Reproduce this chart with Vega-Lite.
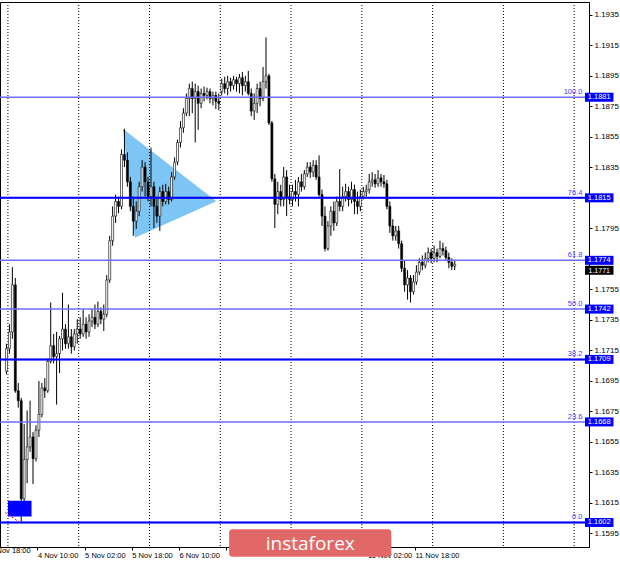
{
"$schema":"https://vega.github.io/schema/vega-lite/v6.json",
"width":589,"height":545,
"autosize":{"type":"none"},
"padding":{"left":0,"top":2,"right":31,"bottom":16},
"background":"#ffffff",
"config":{"view":{"stroke":"#000","strokeWidth":1},"axis":{"labelFont":"Liberation Sans","labelFontSize":8,"labelColor":"#000","domainColor":"#000","tickColor":"#000","grid":false},"axisX":{"labelFontSize":7.5},"text":{"font":"Liberation Sans"}},
"datasets":{
"tri":[{"x":39,"y":1.18603,"y2":1.18603},{"x":43,"y":1.18543,"y2":1.17888},{"x":70.67,"y":1.18127,"y2":1.18127}],
"grid":[{"x":0},{"x":24},{"x":48},{"x":72},{"x":96},{"x":120},{"x":144},{"x":168},{"x":192}],
"fib":[{"p":1.1881,"lab":"100.0"},{"p":1.1815,"lab":"76.4"},{"p":1.1774,"lab":"61.8"},{"p":1.1742,"lab":"50.0"},{"p":1.1709,"lab":"38.2"},{"p":1.1668,"lab":"23.6"},{"p":1.1602,"lab":"0.0"}],
"hl":[{"p":1.1815},{"p":1.1709},{"p":1.1602}],
"xl":[{"t":-6,"lab":"3 Nov 18:00"}],
"logo":[{"name":"instaforex"}],
"k":[
{"t":-0.5,"o":1.17012,"hi":1.17193,"lo":1.16993,"c":1.17160},
{"t":0.5,"o":1.17160,"hi":1.17321,"lo":1.17128,"c":1.17270},
{"t":1.5,"o":1.17270,"hi":1.17695,"lo":1.17225,"c":1.17579},
{"t":2.5,"o":1.17579,"hi":1.17624,"lo":1.16871,"c":1.16884},
{"t":3.5,"o":1.16884,"hi":1.16935,"lo":1.16774,"c":1.16819},
{"t":4.5,"o":1.16819,"hi":1.16838,"lo":1.16021,"c":1.16175},
{"t":5.5,"o":1.16175,"hi":1.16665,"lo":1.16130,"c":1.16433},
{"t":6.5,"o":1.16433,"hi":1.16755,"lo":1.16278,"c":1.16516},
{"t":7.5,"o":1.16516,"hi":1.16819,"lo":1.16484,"c":1.16581},
{"t":8.5,"o":1.16581,"hi":1.16613,"lo":1.16272,"c":1.16439},
{"t":9.5,"o":1.16439,"hi":1.16658,"lo":1.16420,"c":1.16626},
{"t":10.5,"o":1.16626,"hi":1.16948,"lo":1.16581,"c":1.16729},
{"t":11.5,"o":1.16729,"hi":1.16935,"lo":1.16710,"c":1.16903},
{"t":12.5,"o":1.16903,"hi":1.16967,"lo":1.16838,"c":1.16884},
{"t":13.5,"o":1.16884,"hi":1.17096,"lo":1.16871,"c":1.17077},
{"t":14.5,"o":1.17077,"hi":1.17463,"lo":1.17064,"c":1.17180},
{"t":15.5,"o":1.17180,"hi":1.17257,"lo":1.17064,"c":1.17109},
{"t":16.5,"o":1.17109,"hi":1.17270,"lo":1.16793,"c":1.17128},
{"t":17.5,"o":1.17128,"hi":1.17244,"lo":1.17000,"c":1.17225},
{"t":18.5,"o":1.17225,"hi":1.17527,"lo":1.17148,"c":1.17289},
{"t":19.5,"o":1.17289,"hi":1.17321,"lo":1.17160,"c":1.17193},
{"t":20.5,"o":1.17193,"hi":1.17450,"lo":1.17160,"c":1.17238},
{"t":21.5,"o":1.17238,"hi":1.17289,"lo":1.17128,"c":1.17173},
{"t":22.5,"o":1.17173,"hi":1.17289,"lo":1.17148,"c":1.17257},
{"t":23.5,"o":1.17257,"hi":1.17354,"lo":1.17193,"c":1.17289},
{"t":24.5,"o":1.17289,"hi":1.17366,"lo":1.17225,"c":1.17257},
{"t":25.5,"o":1.17257,"hi":1.17418,"lo":1.17238,"c":1.17321},
{"t":26.5,"o":1.17321,"hi":1.17366,"lo":1.17225,"c":1.17270},
{"t":27.5,"o":1.17270,"hi":1.17386,"lo":1.17238,"c":1.17341},
{"t":28.5,"o":1.17341,"hi":1.17418,"lo":1.17302,"c":1.17366},
{"t":29.5,"o":1.17366,"hi":1.17450,"lo":1.17289,"c":1.17321},
{"t":30.5,"o":1.17321,"hi":1.17469,"lo":1.17302,"c":1.17405},
{"t":31.5,"o":1.17405,"hi":1.17431,"lo":1.17321,"c":1.17354},
{"t":32.5,"o":1.17354,"hi":1.17450,"lo":1.17276,"c":1.17386},
{"t":33.5,"o":1.17386,"hi":1.17643,"lo":1.17366,"c":1.17611},
{"t":34.5,"o":1.17611,"hi":1.17901,"lo":1.17592,"c":1.17869},
{"t":35.5,"o":1.17869,"hi":1.18094,"lo":1.17836,"c":1.18030},
{"t":36.5,"o":1.18030,"hi":1.18171,"lo":1.17985,"c":1.18126},
{"t":37.5,"o":1.18126,"hi":1.18158,"lo":1.18049,"c":1.18094},
{"t":38.5,"o":1.18094,"hi":1.18467,"lo":1.18075,"c":1.18435},
{"t":39.5,"o":1.18435,"hi":1.18603,"lo":1.18352,"c":1.18397},
{"t":40.5,"o":1.18397,"hi":1.18448,"lo":1.18223,"c":1.18255},
{"t":41.5,"o":1.18255,"hi":1.18287,"lo":1.18062,"c":1.18094},
{"t":42.5,"o":1.18094,"hi":1.18158,"lo":1.17901,"c":1.17997},
{"t":43.5,"o":1.17997,"hi":1.18126,"lo":1.17946,"c":1.18062},
{"t":44.5,"o":1.18062,"hi":1.18255,"lo":1.18030,"c":1.18223},
{"t":45.5,"o":1.18223,"hi":1.18397,"lo":1.18191,"c":1.18352},
{"t":46.5,"o":1.18352,"hi":1.18384,"lo":1.18158,"c":1.18255},
{"t":47.5,"o":1.18255,"hi":1.18287,"lo":1.18126,"c":1.18158},
{"t":48.5,"o":1.18158,"hi":1.18480,"lo":1.18094,"c":1.18223},
{"t":49.5,"o":1.18223,"hi":1.18255,"lo":1.17952,"c":1.18094},
{"t":50.5,"o":1.18094,"hi":1.18158,"lo":1.17985,"c":1.18030},
{"t":51.5,"o":1.18030,"hi":1.18223,"lo":1.17933,"c":1.18191},
{"t":52.5,"o":1.18191,"hi":1.18236,"lo":1.18094,"c":1.18126},
{"t":53.5,"o":1.18126,"hi":1.18242,"lo":1.18107,"c":1.18191},
{"t":54.5,"o":1.18191,"hi":1.18223,"lo":1.18107,"c":1.18139},
{"t":55.5,"o":1.18139,"hi":1.18319,"lo":1.18126,"c":1.18287},
{"t":56.5,"o":1.18287,"hi":1.18416,"lo":1.18268,"c":1.18384},
{"t":57.5,"o":1.18384,"hi":1.18532,"lo":1.18364,"c":1.18513},
{"t":58.5,"o":1.18513,"hi":1.18654,"lo":1.18480,"c":1.18609},
{"t":59.5,"o":1.18609,"hi":1.18738,"lo":1.18577,"c":1.18706},
{"t":60.5,"o":1.18706,"hi":1.18835,"lo":1.18686,"c":1.18802},
{"t":61.5,"o":1.18802,"hi":1.18899,"lo":1.18686,"c":1.18867},
{"t":62.5,"o":1.18867,"hi":1.18912,"lo":1.18706,"c":1.18802},
{"t":63.5,"o":1.18802,"hi":1.18899,"lo":1.18513,"c":1.18847},
{"t":64.5,"o":1.18847,"hi":1.18886,"lo":1.18596,"c":1.18770},
{"t":65.5,"o":1.18770,"hi":1.18867,"lo":1.18738,"c":1.18835},
{"t":66.5,"o":1.18835,"hi":1.18880,"lo":1.18783,"c":1.18822},
{"t":67.5,"o":1.18822,"hi":1.18873,"lo":1.18796,"c":1.18847},
{"t":68.5,"o":1.18847,"hi":1.18867,"lo":1.18770,"c":1.18802},
{"t":69.5,"o":1.18802,"hi":1.18847,"lo":1.18757,"c":1.18822},
{"t":70.5,"o":1.18822,"hi":1.18847,"lo":1.18732,"c":1.18783},
{"t":71.5,"o":1.18783,"hi":1.18835,"lo":1.18725,"c":1.18770},
{"t":72.5,"o":1.18847,"hi":1.18931,"lo":1.18822,"c":1.18899},
{"t":73.5,"o":1.18899,"hi":1.18944,"lo":1.18835,"c":1.18867},
{"t":74.5,"o":1.18867,"hi":1.18950,"lo":1.18822,"c":1.18912},
{"t":75.5,"o":1.18912,"hi":1.18938,"lo":1.18847,"c":1.18886},
{"t":76.5,"o":1.18886,"hi":1.18950,"lo":1.18860,"c":1.18925},
{"t":77.5,"o":1.18925,"hi":1.18944,"lo":1.18847,"c":1.18899},
{"t":78.5,"o":1.18899,"hi":1.18963,"lo":1.18835,"c":1.18938},
{"t":79.5,"o":1.18938,"hi":1.18976,"lo":1.18822,"c":1.18886},
{"t":80.5,"o":1.18886,"hi":1.18950,"lo":1.18847,"c":1.18912},
{"t":81.5,"o":1.18912,"hi":1.18983,"lo":1.18822,"c":1.18835},
{"t":82.5,"o":1.18835,"hi":1.18867,"lo":1.18686,"c":1.18719},
{"t":83.5,"o":1.18719,"hi":1.18835,"lo":1.18661,"c":1.18770},
{"t":84.5,"o":1.18770,"hi":1.18899,"lo":1.18706,"c":1.18867},
{"t":85.5,"o":1.18867,"hi":1.18912,"lo":1.18751,"c":1.18802},
{"t":86.5,"o":1.18802,"hi":1.19008,"lo":1.18783,"c":1.18912},
{"t":87.5,"o":1.18912,"hi":1.19202,"lo":1.18867,"c":1.18950},
{"t":88.5,"o":1.18950,"hi":1.18963,"lo":1.18628,"c":1.18641},
{"t":89.5,"o":1.18641,"hi":1.18654,"lo":1.18255,"c":1.18274},
{"t":90.5,"o":1.18274,"hi":1.18307,"lo":1.17952,"c":1.18107},
{"t":91.5,"o":1.18107,"hi":1.18255,"lo":1.18043,"c":1.18191},
{"t":92.5,"o":1.18191,"hi":1.18236,"lo":1.18094,"c":1.18139},
{"t":93.5,"o":1.18139,"hi":1.18352,"lo":1.18094,"c":1.18287},
{"t":94.5,"o":1.18287,"hi":1.18332,"lo":1.18030,"c":1.18158},
{"t":95.5,"o":1.18158,"hi":1.18236,"lo":1.18107,"c":1.18139},
{"t":96.5,"o":1.18139,"hi":1.18236,"lo":1.18094,"c":1.18191},
{"t":97.5,"o":1.18191,"hi":1.18268,"lo":1.18126,"c":1.18171},
{"t":98.5,"o":1.18171,"hi":1.18287,"lo":1.18094,"c":1.18255},
{"t":99.5,"o":1.18255,"hi":1.18307,"lo":1.18191,"c":1.18223},
{"t":100.5,"o":1.18223,"hi":1.18332,"lo":1.18204,"c":1.18307},
{"t":101.5,"o":1.18307,"hi":1.18384,"lo":1.18287,"c":1.18352},
{"t":102.5,"o":1.18352,"hi":1.18384,"lo":1.18281,"c":1.18319},
{"t":103.5,"o":1.18319,"hi":1.18397,"lo":1.18287,"c":1.18364},
{"t":104.5,"o":1.18364,"hi":1.18397,"lo":1.18268,"c":1.18287},
{"t":105.5,"o":1.18287,"hi":1.18429,"lo":1.18158,"c":1.18171},
{"t":106.5,"o":1.18171,"hi":1.18204,"lo":1.17965,"c":1.18030},
{"t":107.5,"o":1.18030,"hi":1.18094,"lo":1.17798,"c":1.17817},
{"t":108.5,"o":1.17817,"hi":1.17997,"lo":1.17804,"c":1.17965},
{"t":109.5,"o":1.17965,"hi":1.18094,"lo":1.17901,"c":1.18062},
{"t":110.5,"o":1.18062,"hi":1.18126,"lo":1.17933,"c":1.17985},
{"t":111.5,"o":1.17985,"hi":1.18158,"lo":1.17965,"c":1.18126},
{"t":112.5,"o":1.18126,"hi":1.18339,"lo":1.18062,"c":1.18094},
{"t":113.5,"o":1.18094,"hi":1.18223,"lo":1.18062,"c":1.18158},
{"t":114.5,"o":1.18158,"hi":1.18242,"lo":1.18126,"c":1.18191},
{"t":115.5,"o":1.18191,"hi":1.18223,"lo":1.18094,"c":1.18139},
{"t":116.5,"o":1.18139,"hi":1.18255,"lo":1.18113,"c":1.18204},
{"t":117.5,"o":1.18204,"hi":1.18236,"lo":1.18043,"c":1.18126},
{"t":118.5,"o":1.18126,"hi":1.18191,"lo":1.18043,"c":1.18094},
{"t":119.5,"o":1.18094,"hi":1.18204,"lo":1.18062,"c":1.18158},
{"t":120.5,"o":1.18158,"hi":1.18223,"lo":1.18139,"c":1.18191},
{"t":121.5,"o":1.18191,"hi":1.18236,"lo":1.18158,"c":1.18204},
{"t":122.5,"o":1.18204,"hi":1.18307,"lo":1.18178,"c":1.18255},
{"t":123.5,"o":1.18255,"hi":1.18319,"lo":1.18223,"c":1.18268},
{"t":124.5,"o":1.18268,"hi":1.18307,"lo":1.18216,"c":1.18242},
{"t":125.5,"o":1.18242,"hi":1.18332,"lo":1.18223,"c":1.18281},
{"t":126.5,"o":1.18281,"hi":1.18307,"lo":1.18223,"c":1.18255},
{"t":127.5,"o":1.18255,"hi":1.18300,"lo":1.18216,"c":1.18242},
{"t":128.5,"o":1.18242,"hi":1.18268,"lo":1.18075,"c":1.18094},
{"t":129.5,"o":1.18094,"hi":1.18126,"lo":1.17920,"c":1.17965},
{"t":130.5,"o":1.17965,"hi":1.18010,"lo":1.17869,"c":1.17901},
{"t":131.5,"o":1.17901,"hi":1.17965,"lo":1.17869,"c":1.17933},
{"t":132.5,"o":1.17933,"hi":1.17965,"lo":1.17817,"c":1.17849},
{"t":133.5,"o":1.17849,"hi":1.17869,"lo":1.17663,"c":1.17688},
{"t":134.5,"o":1.17688,"hi":1.17740,"lo":1.17534,"c":1.17579},
{"t":135.5,"o":1.17579,"hi":1.17676,"lo":1.17482,"c":1.17624},
{"t":136.5,"o":1.17624,"hi":1.17643,"lo":1.17463,"c":1.17534},
{"t":137.5,"o":1.17534,"hi":1.17643,"lo":1.17515,"c":1.17598},
{"t":138.5,"o":1.17598,"hi":1.17708,"lo":1.17579,"c":1.17663},
{"t":139.5,"o":1.17663,"hi":1.17753,"lo":1.17643,"c":1.17727},
{"t":140.5,"o":1.17727,"hi":1.17772,"lo":1.17676,"c":1.17708},
{"t":141.5,"o":1.17708,"hi":1.17791,"lo":1.17688,"c":1.17753},
{"t":142.5,"o":1.17753,"hi":1.17824,"lo":1.17727,"c":1.17791},
{"t":143.5,"o":1.17791,"hi":1.17817,"lo":1.17721,"c":1.17753},
{"t":144.5,"o":1.17753,"hi":1.17836,"lo":1.17727,"c":1.17791},
{"t":145.5,"o":1.17791,"hi":1.17817,"lo":1.17727,"c":1.17766},
{"t":146.5,"o":1.17766,"hi":1.17869,"lo":1.17753,"c":1.17817},
{"t":147.5,"o":1.17817,"hi":1.17856,"lo":1.17772,"c":1.17804},
{"t":148.5,"o":1.17804,"hi":1.17830,"lo":1.17740,"c":1.17759},
{"t":149.5,"o":1.17759,"hi":1.17791,"lo":1.17688,"c":1.17727},
{"t":150.5,"o":1.17727,"hi":1.17753,"lo":1.17676,"c":1.17701},
{"t":151.5,"o":1.17701,"hi":1.17740,"lo":1.17676,"c":1.17714}
]},
"layer":[
{"data":{"name":"tri"},"mark":{"type":"area","color":"#7cc5f5","opacity":1},
 "encoding":{"x":{"field":"x","type":"quantitative","scale":{"domain":[-1,195.333],"nice":false,"zero":false},"axis":{"orient":"bottom","values":[10,26,42,58,74,90,106,122,138],"labelExpr":"['4 Nov 10:00','5 Nov 02:00','5 Nov 18:00','6 Nov 10:00','','','','11 Nov 02:00','11 Nov 18:00'][indexof([10,26,42,58,74,90,106,122,138], datum.value)]","labelAlign":"left","labelBaseline":"top","labelPadding":1,"tickSize":3,"labelOverlap":false,"labelBound":false,"labelFlush":false,"title":null}},
 "y":{"field":"y","type":"quantitative","scale":{"domain":[1.15892,1.19402],"nice":false,"zero":false},"axis":{"orient":"right","values":[1.1595,1.1615,1.1635,1.1655,1.1675,1.1695,1.1715,1.1735,1.1755,1.1795,1.1835,1.1855,1.1875,1.1895,1.1915,1.1935],"format":".4f","tickSize":3,"labelPadding":2,"labelBaseline":"middle","labelOverlap":false,"labelBound":false,"labelFlush":false,"title":null}},"y2":{"field":"y2"}}},
{"data":{"name":"grid"},"mark":{"type":"rule","color":"#000","strokeDash":[1,2],"strokeWidth":1},
 "encoding":{"x":{"field":"x","type":"quantitative","scale":{"domain":[-1,195.333],"nice":false,"zero":false},"axis":{"orient":"bottom","values":[10,26,42,58,74,90,106,122,138],"labelExpr":"['4 Nov 10:00','5 Nov 02:00','5 Nov 18:00','6 Nov 10:00','','','','11 Nov 02:00','11 Nov 18:00'][indexof([10,26,42,58,74,90,106,122,138], datum.value)]","labelAlign":"left","labelBaseline":"top","labelPadding":1,"tickSize":3,"labelOverlap":false,"labelBound":false,"labelFlush":false,"title":null}}}},
{"data":{"name":"k"},"mark":{"type":"rule","color":"#000","strokeWidth":1},
 "encoding":{"x":{"field":"t","type":"quantitative","scale":{"domain":[-1,195.333],"nice":false,"zero":false},"axis":{"orient":"bottom","values":[10,26,42,58,74,90,106,122,138],"labelExpr":"['4 Nov 10:00','5 Nov 02:00','5 Nov 18:00','6 Nov 10:00','','','','11 Nov 02:00','11 Nov 18:00'][indexof([10,26,42,58,74,90,106,122,138], datum.value)]","labelAlign":"left","labelBaseline":"top","labelPadding":1,"tickSize":3,"labelOverlap":false,"labelBound":false,"labelFlush":false,"title":null}},
 "y":{"field":"lo","type":"quantitative","scale":{"domain":[1.15892,1.19402],"nice":false,"zero":false},"axis":{"orient":"right","values":[1.1595,1.1615,1.1635,1.1655,1.1675,1.1695,1.1715,1.1735,1.1755,1.1795,1.1835,1.1855,1.1875,1.1895,1.1915,1.1935],"format":".4f","tickSize":3,"labelPadding":2,"labelBaseline":"middle","labelOverlap":false,"labelBound":false,"labelFlush":false,"title":null}},
 "y2":{"field":"hi"}}},
{"data":{"name":"k"},"mark":{"type":"bar","width":2,"stroke":"#000","strokeWidth":0.6},
 "encoding":{"x":{"field":"t","type":"quantitative","scale":{"domain":[-1,195.333],"nice":false,"zero":false},"axis":{"orient":"bottom","values":[10,26,42,58,74,90,106,122,138],"labelExpr":"['4 Nov 10:00','5 Nov 02:00','5 Nov 18:00','6 Nov 10:00','','','','11 Nov 02:00','11 Nov 18:00'][indexof([10,26,42,58,74,90,106,122,138], datum.value)]","labelAlign":"left","labelBaseline":"top","labelPadding":1,"tickSize":3,"labelOverlap":false,"labelBound":false,"labelFlush":false,"title":null}},
 "y":{"field":"o","type":"quantitative","scale":{"domain":[1.15892,1.19402],"nice":false,"zero":false},"axis":{"orient":"right","values":[1.1595,1.1615,1.1635,1.1655,1.1675,1.1695,1.1715,1.1735,1.1755,1.1795,1.1835,1.1855,1.1875,1.1895,1.1915,1.1935],"format":".4f","tickSize":3,"labelPadding":2,"labelBaseline":"middle","labelOverlap":false,"labelBound":false,"labelFlush":false,"title":null}},"y2":{"field":"c"},
 "fill":{"condition":{"test":"datum.c < datum.o","value":"#000"},"value":"#fff"}}},
{"data":{"name":"fib"},"mark":{"type":"rule","color":"#6b6bff","strokeWidth":1.5},
 "encoding":{"y":{"field":"p","type":"quantitative","scale":{"domain":[1.15892,1.19402],"nice":false,"zero":false},"axis":{"orient":"right","values":[1.1595,1.1615,1.1635,1.1655,1.1675,1.1695,1.1715,1.1735,1.1755,1.1795,1.1835,1.1855,1.1875,1.1895,1.1915,1.1935],"format":".4f","tickSize":3,"labelPadding":2,"labelBaseline":"middle","labelOverlap":false,"labelBound":false,"labelFlush":false,"title":null}}}},
{"data":{"name":"hl"},"mark":{"type":"rule","color":"#0000ff","strokeWidth":2},
 "encoding":{"y":{"field":"p","type":"quantitative","scale":{"domain":[1.15892,1.19402],"nice":false,"zero":false},"axis":{"orient":"right","values":[1.1595,1.1615,1.1635,1.1655,1.1675,1.1695,1.1715,1.1735,1.1755,1.1795,1.1835,1.1855,1.1875,1.1895,1.1915,1.1935],"format":".4f","tickSize":3,"labelPadding":2,"labelBaseline":"middle","labelOverlap":false,"labelBound":false,"labelFlush":false,"title":null}}}},
{"data":{"name":"fib"},"mark":{"type":"text","align":"right","baseline":"bottom","dy":-1,"fontSize":7.5,"color":"#3b3bff"},
 "encoding":{"x":{"datum":194.8,"type":"quantitative","scale":{"domain":[-1,195.333],"nice":false,"zero":false},"axis":{"orient":"bottom","values":[10,26,42,58,74,90,106,122,138],"labelExpr":"['4 Nov 10:00','5 Nov 02:00','5 Nov 18:00','6 Nov 10:00','','','','11 Nov 02:00','11 Nov 18:00'][indexof([10,26,42,58,74,90,106,122,138], datum.value)]","labelAlign":"left","labelBaseline":"top","labelPadding":1,"tickSize":3,"labelOverlap":false,"labelBound":false,"labelFlush":false,"title":null}},
 "y":{"field":"p","type":"quantitative","scale":{"domain":[1.15892,1.19402],"nice":false,"zero":false},"axis":{"orient":"right","values":[1.1595,1.1615,1.1635,1.1655,1.1675,1.1695,1.1715,1.1735,1.1755,1.1795,1.1835,1.1855,1.1875,1.1895,1.1915,1.1935],"format":".4f","tickSize":3,"labelPadding":2,"labelBaseline":"middle","labelOverlap":false,"labelBound":false,"labelFlush":false,"title":null}},"text":{"field":"lab"}}},
{"data":{"name":"k"},"transform":[{"filter":"datum.t == 151.5"}],"mark":{"type":"bar","height":9,"color":"#000","yOffset":6},
 "encoding":{"x":{"datum":195.67,"type":"quantitative","scale":{"domain":[-1,195.333],"nice":false,"zero":false},"axis":{"orient":"bottom","values":[10,26,42,58,74,90,106,122,138],"labelExpr":"['4 Nov 10:00','5 Nov 02:00','5 Nov 18:00','6 Nov 10:00','','','','11 Nov 02:00','11 Nov 18:00'][indexof([10,26,42,58,74,90,106,122,138], datum.value)]","labelAlign":"left","labelBaseline":"top","labelPadding":1,"tickSize":3,"labelOverlap":false,"labelBound":false,"labelFlush":false,"title":null}},"x2":{"datum":205.33},
 "y":{"field":"c","type":"quantitative","scale":{"domain":[1.15892,1.19402],"nice":false,"zero":false},"axis":{"orient":"right","values":[1.1595,1.1615,1.1635,1.1655,1.1675,1.1695,1.1715,1.1735,1.1755,1.1795,1.1835,1.1855,1.1875,1.1895,1.1915,1.1935],"format":".4f","tickSize":3,"labelPadding":2,"labelBaseline":"middle","labelOverlap":false,"labelBound":false,"labelFlush":false,"title":null}}}},
{"data":{"name":"k"},"transform":[{"filter":"datum.t == 151.5"}],"mark":{"type":"text","color":"#fff","fontSize":7,"align":"center","baseline":"middle","dy":6.5},
 "encoding":{"x":{"datum":200.5,"type":"quantitative","scale":{"domain":[-1,195.333],"nice":false,"zero":false},"axis":{"orient":"bottom","values":[10,26,42,58,74,90,106,122,138],"labelExpr":"['4 Nov 10:00','5 Nov 02:00','5 Nov 18:00','6 Nov 10:00','','','','11 Nov 02:00','11 Nov 18:00'][indexof([10,26,42,58,74,90,106,122,138], datum.value)]","labelAlign":"left","labelBaseline":"top","labelPadding":1,"tickSize":3,"labelOverlap":false,"labelBound":false,"labelFlush":false,"title":null}},
 "y":{"field":"c","type":"quantitative","scale":{"domain":[1.15892,1.19402],"nice":false,"zero":false},"axis":{"orient":"right","values":[1.1595,1.1615,1.1635,1.1655,1.1675,1.1695,1.1715,1.1735,1.1755,1.1795,1.1835,1.1855,1.1875,1.1895,1.1915,1.1935],"format":".4f","tickSize":3,"labelPadding":2,"labelBaseline":"middle","labelOverlap":false,"labelBound":false,"labelFlush":false,"title":null}},"text":{"field":"c","format":".4f"}}},
{"data":{"name":"fib"},"mark":{"type":"bar","height":9,"color":"#0000ff"},
 "encoding":{"x":{"datum":195.67,"type":"quantitative","scale":{"domain":[-1,195.333],"nice":false,"zero":false},"axis":{"orient":"bottom","values":[10,26,42,58,74,90,106,122,138],"labelExpr":"['4 Nov 10:00','5 Nov 02:00','5 Nov 18:00','6 Nov 10:00','','','','11 Nov 02:00','11 Nov 18:00'][indexof([10,26,42,58,74,90,106,122,138], datum.value)]","labelAlign":"left","labelBaseline":"top","labelPadding":1,"tickSize":3,"labelOverlap":false,"labelBound":false,"labelFlush":false,"title":null}},"x2":{"datum":205.33},
 "y":{"field":"p","type":"quantitative","scale":{"domain":[1.15892,1.19402],"nice":false,"zero":false},"axis":{"orient":"right","values":[1.1595,1.1615,1.1635,1.1655,1.1675,1.1695,1.1715,1.1735,1.1755,1.1795,1.1835,1.1855,1.1875,1.1895,1.1915,1.1935],"format":".4f","tickSize":3,"labelPadding":2,"labelBaseline":"middle","labelOverlap":false,"labelBound":false,"labelFlush":false,"title":null}}}},
{"data":{"name":"fib"},"mark":{"type":"text","color":"#fff","fontSize":7.5,"align":"center","baseline":"middle"},
 "encoding":{"x":{"datum":200.5,"type":"quantitative","scale":{"domain":[-1,195.333],"nice":false,"zero":false},"axis":{"orient":"bottom","values":[10,26,42,58,74,90,106,122,138],"labelExpr":"['4 Nov 10:00','5 Nov 02:00','5 Nov 18:00','6 Nov 10:00','','','','11 Nov 02:00','11 Nov 18:00'][indexof([10,26,42,58,74,90,106,122,138], datum.value)]","labelAlign":"left","labelBaseline":"top","labelPadding":1,"tickSize":3,"labelOverlap":false,"labelBound":false,"labelFlush":false,"title":null}},
 "y":{"field":"p","type":"quantitative","scale":{"domain":[1.15892,1.19402],"nice":false,"zero":false},"axis":{"orient":"right","values":[1.1595,1.1615,1.1635,1.1655,1.1675,1.1695,1.1715,1.1735,1.1755,1.1795,1.1835,1.1855,1.1875,1.1895,1.1915,1.1935],"format":".4f","tickSize":3,"labelPadding":2,"labelBaseline":"middle","labelOverlap":false,"labelBound":false,"labelFlush":false,"title":null}},"text":{"field":"p","format":".4f"}}},
{"data":{"name":"xl"},"mark":{"type":"text","color":"#000","fontSize":7.5,"align":"left","baseline":"top"},
 "encoding":{"x":{"field":"t","type":"quantitative","scale":{"domain":[-1,195.333],"nice":false,"zero":false},"axis":{"orient":"bottom","values":[10,26,42,58,74,90,106,122,138],"labelExpr":"['4 Nov 10:00','5 Nov 02:00','5 Nov 18:00','6 Nov 10:00','','','','11 Nov 02:00','11 Nov 18:00'][indexof([10,26,42,58,74,90,106,122,138], datum.value)]","labelAlign":"left","labelBaseline":"top","labelPadding":1,"tickSize":3,"labelOverlap":false,"labelBound":false,"labelFlush":false,"title":null}},
 "y":{"datum":1.1586,"type":"quantitative","scale":{"domain":[1.15892,1.19402],"nice":false,"zero":false},"axis":{"orient":"right","values":[1.1595,1.1615,1.1635,1.1655,1.1675,1.1695,1.1715,1.1735,1.1755,1.1795,1.1835,1.1855,1.1875,1.1895,1.1915,1.1935],"format":".4f","tickSize":3,"labelPadding":2,"labelBaseline":"middle","labelOverlap":false,"labelBound":false,"labelFlush":false,"title":null}},"text":{"field":"lab"}}},
{"data":{"name":"logo"},"mark":{"type":"rect","color":"#0000ff"},
 "encoding":{"x":{"datum":0,"type":"quantitative","scale":{"domain":[-1,195.333],"nice":false,"zero":false},"axis":{"orient":"bottom","values":[10,26,42,58,74,90,106,122,138],"labelExpr":"['4 Nov 10:00','5 Nov 02:00','5 Nov 18:00','6 Nov 10:00','','','','11 Nov 02:00','11 Nov 18:00'][indexof([10,26,42,58,74,90,106,122,138], datum.value)]","labelAlign":"left","labelBaseline":"top","labelPadding":1,"tickSize":3,"labelOverlap":false,"labelBound":false,"labelFlush":false,"title":null}},"x2":{"datum":8},
 "y":{"datum":1.16162,"type":"quantitative","scale":{"domain":[1.15892,1.19402],"nice":false,"zero":false},"axis":{"orient":"right","values":[1.1595,1.1615,1.1635,1.1655,1.1675,1.1695,1.1715,1.1735,1.1755,1.1795,1.1835,1.1855,1.1875,1.1895,1.1915,1.1935],"format":".4f","tickSize":3,"labelPadding":2,"labelBaseline":"middle","labelOverlap":false,"labelBound":false,"labelFlush":false,"title":null}},"y2":{"datum":1.16059}}},
{"data":{"name":"logo"},"mark":{"type":"rule","color":"#ff0000","strokeDash":[2,2],"strokeWidth":1},
 "encoding":{"x":{"datum":-1,"type":"quantitative","scale":{"domain":[-1,195.333],"nice":false,"zero":false},"axis":{"orient":"bottom","values":[10,26,42,58,74,90,106,122,138],"labelExpr":"['4 Nov 10:00','5 Nov 02:00','5 Nov 18:00','6 Nov 10:00','','','','11 Nov 02:00','11 Nov 18:00'][indexof([10,26,42,58,74,90,106,122,138], datum.value)]","labelAlign":"left","labelBaseline":"top","labelPadding":1,"tickSize":3,"labelOverlap":false,"labelBound":false,"labelFlush":false,"title":null}},"x2":{"datum":4.5},
 "y":{"datum":1.16085,"type":"quantitative","scale":{"domain":[1.15892,1.19402],"nice":false,"zero":false},"axis":{"orient":"right","values":[1.1595,1.1615,1.1635,1.1655,1.1675,1.1695,1.1715,1.1735,1.1755,1.1795,1.1835,1.1855,1.1875,1.1895,1.1915,1.1935],"format":".4f","tickSize":3,"labelPadding":2,"labelBaseline":"middle","labelOverlap":false,"labelBound":false,"labelFlush":false,"title":null}},"y2":{"datum":1.16015}}},
{"data":{"name":"logo"},"mark":{"type":"rect","color":"#e26868","cornerRadius":3},
 "encoding":{"x":{"datum":75,"type":"quantitative","scale":{"domain":[-1,195.333],"nice":false,"zero":false},"axis":{"orient":"bottom","values":[10,26,42,58,74,90,106,122,138],"labelExpr":"['4 Nov 10:00','5 Nov 02:00','5 Nov 18:00','6 Nov 10:00','','','','11 Nov 02:00','11 Nov 18:00'][indexof([10,26,42,58,74,90,106,122,138], datum.value)]","labelAlign":"left","labelBaseline":"top","labelPadding":1,"tickSize":3,"labelOverlap":false,"labelBound":false,"labelFlush":false,"title":null}},"x2":{"datum":130},
 "y":{"datum":1.15976,"type":"quantitative","scale":{"domain":[1.15892,1.19402],"nice":false,"zero":false},"axis":{"orient":"right","values":[1.1595,1.1615,1.1635,1.1655,1.1675,1.1695,1.1715,1.1735,1.1755,1.1795,1.1835,1.1855,1.1875,1.1895,1.1915,1.1935],"format":".4f","tickSize":3,"labelPadding":2,"labelBaseline":"middle","labelOverlap":false,"labelBound":false,"labelFlush":false,"title":null}},"y2":{"datum":1.15795}}},
{"data":{"name":"logo"},"mark":{"type":"text","color":"#fff","fontSize":19,"align":"center","baseline":"middle","font":"Open Sans"},
 "encoding":{"x":{"datum":102.5,"type":"quantitative","scale":{"domain":[-1,195.333],"nice":false,"zero":false},"axis":{"orient":"bottom","values":[10,26,42,58,74,90,106,122,138],"labelExpr":"['4 Nov 10:00','5 Nov 02:00','5 Nov 18:00','6 Nov 10:00','','','','11 Nov 02:00','11 Nov 18:00'][indexof([10,26,42,58,74,90,106,122,138], datum.value)]","labelAlign":"left","labelBaseline":"top","labelPadding":1,"tickSize":3,"labelOverlap":false,"labelBound":false,"labelFlush":false,"title":null}},
 "y":{"datum":1.15879,"type":"quantitative","scale":{"domain":[1.15892,1.19402],"nice":false,"zero":false},"axis":{"orient":"right","values":[1.1595,1.1615,1.1635,1.1655,1.1675,1.1695,1.1715,1.1735,1.1755,1.1795,1.1835,1.1855,1.1875,1.1895,1.1915,1.1935],"format":".4f","tickSize":3,"labelPadding":2,"labelBaseline":"middle","labelOverlap":false,"labelBound":false,"labelFlush":false,"title":null}},"text":{"field":"name"}}}
]
}
